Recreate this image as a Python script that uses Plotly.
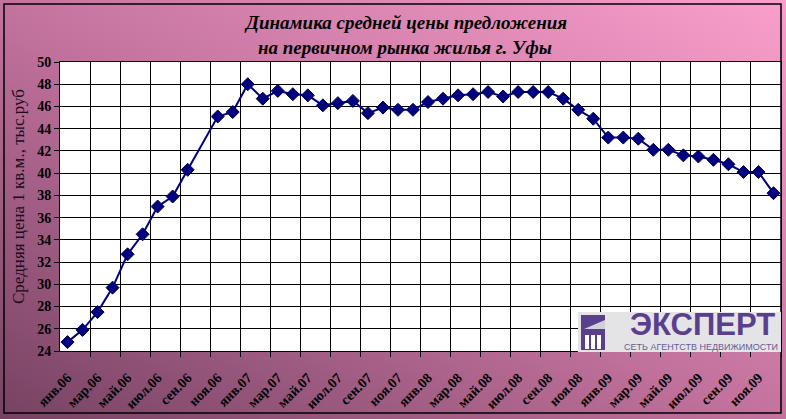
import base64
import plotly.graph_objects as go

# Помесячные данные, янв.06 - дек.09 (окт.06 нет на графике)
months = ["янв", "фев", "мар", "апр", "май", "июн", "июл", "авг", "сен", "окт", "ноя", "дек"]
years = ["06", "07", "08", "09"]
categories = [f"{m}.{y}" for y in years for m in months]

price = [24.8, 25.9, 27.5, 29.7, 32.7, 34.5, 37.0, 37.9, 40.3, None,
         45.1, 45.5, 48.0, 46.7, 47.4, 47.1, 47.0, 46.1, 46.3, 46.5,
         45.4, 45.9, 45.7, 45.7, 46.4, 46.7, 47.0, 47.1, 47.3, 46.9,
         47.3, 47.3, 47.3, 46.7, 45.7, 44.9, 43.2, 43.2, 43.1, 42.1,
         42.1, 41.6, 41.5, 41.2, 40.8, 40.1, 40.1, 38.2]

y_ticks = list(range(24, 51, 2))

title_lines = ["Динамика средней цены предложения", "на первичном рынка жилья г. Уфы"]

W, H = 786, 419
L, R, T, B = 60, 5, 62, 68
PW, PH = W - L - R, H - T - B


def px_x(p):
    return (p - L) / PW


def px_y(p):
    return 1 - (p - T) / PH


def label(text, x, y, font, **kw):
    # подпись в пикселях от левого верхнего угла
    fig.add_annotation(text=text, xref="paper", yref="paper", x=px_x(x), y=px_y(y),
                       xanchor="center", yanchor="middle", showarrow=False, font=font, **kw)


serif = "Liberation Serif"
navy = "#000080"
purple = "#5b3f8f"

# фон - диагональный градиент
svg = (
    '<svg xmlns="http://www.w3.org/2000/svg" width="786" height="419">'
    '<defs><linearGradient id="g" x1="0" y1="1" x2="1" y2="0">'
    '<stop offset="0" stop-color="#764262"/>'
    '<stop offset="0.5" stop-color="#c4739f"/>'
    '<stop offset="1" stop-color="#fa9fcc"/>'
    '</linearGradient></defs>'
    '<rect width="786" height="419" fill="url(#g)"/></svg>'
)
bg_src = "data:image/svg+xml;base64," + base64.b64encode(svg.encode()).decode()

x_idx = list(range(len(categories)))

fig = go.Figure()
fig.add_trace(go.Scatter(
    x=x_idx, y=price, mode="lines+markers", connectgaps=True,
    line=dict(color=navy, width=2),
    marker=dict(symbol="diamond", size=10, color=navy, line=dict(color="#00004a", width=1)),
    hoverinfo="x+y", showlegend=False,
))

fig.update_layout(
    width=W, height=H,
    margin=dict(l=L, r=R, t=T, b=B),
    paper_bgcolor="rgba(0,0,0,0)",
    plot_bgcolor="white",
    xaxis=dict(
        range=[-0.5, len(categories) - 0.5], automargin=False,
        tickvals=x_idx[::2], ticktext=categories[::2],
        tickangle=-45, ticks="", ticklabelstandoff=12,
        tickfont=dict(family=serif, size=14, color="black", weight="bold"),
        showgrid=False, zeroline=False,
        showline=True, linecolor="black", linewidth=1, mirror=True,
        minor=dict(
            tickvals=[i + 1.5 for i in x_idx[::2]],
            ticks="outside", ticklen=5, tickcolor="black",
            showgrid=True, gridcolor="black", gridwidth=1,
        ),
    ),
    yaxis=dict(
        range=[24, 50], tickvals=y_ticks, automargin=False,
        ticks="outside", ticklen=5, tickcolor="black",
        tickfont=dict(family=serif, size=14, color="black", weight="bold"),
        showgrid=True, gridcolor="black", gridwidth=1, zeroline=False,
        showline=True, linecolor="black", linewidth=1, mirror=True,
    ),
    images=[dict(
        source=bg_src, xref="paper", yref="paper",
        x=px_x(0), y=px_y(0), sizex=W / PW, sizey=H / PH,
        xanchor="left", yanchor="top", sizing="stretch", layer="below",
    )],
)

# белая область построения поверх градиента
fig.add_shape(type="rect", xref="paper", yref="paper", x0=0, x1=1, y0=0, y1=1,
              fillcolor="white", line_width=0, layer="below")
# рамка диаграммы
fig.add_shape(type="rect", xref="paper", yref="paper",
              x0=px_x(4), x1=px_x(781), y0=px_y(413), y1=px_y(4),
              line=dict(color="black", width=1.5), layer="above")

title_font = dict(family=serif, size=19, color="black", weight="bold", style="italic")
for line_text, cy in zip(title_lines, (22, 47)):
    label(line_text, 405, cy, title_font)

label("Средняя цена 1 кв.м., тыс.руб", 18, 197,
      dict(family=serif, size=17, color="#1e0a16"), textangle=-90)

# логотип "ЭКСПЕРТ"
fig.add_shape(type="rect", xref="paper", yref="paper",
              x0=px_x(578), x1=px_x(781), y0=px_y(352), y1=px_y(312),
              fillcolor="#e4e4e6", line_width=0, layer="above")
fig.add_shape(type="rect", xref="paper", yref="paper",
              x0=px_x(581), x1=px_x(605), y0=px_y(350), y1=px_y(315),
              fillcolor=purple, line_width=0, layer="above")
fig.add_shape(type="path", xref="paper", yref="paper",
              path=f"M {px_x(584)},{px_y(329)} L {px_x(605)},{px_y(320)} L {px_x(605)},{px_y(329)} Z",
              fillcolor="#d0d0d8", line_width=0, layer="above")
for cx in (587, 593, 599):
    fig.add_shape(type="rect", xref="paper", yref="paper",
                  x0=px_x(cx - 2), x1=px_x(cx + 2), y0=px_y(349), y1=px_y(335),
                  fillcolor="white", line_width=0, layer="above")
label("ЭКСПЕРТ", 702, 324, dict(family="Liberation Sans", size=31, color=purple, weight="bold"))
label("СЕТЬ АГЕНТСТВ НЕДВИЖИМОСТИ", 701, 347, dict(family="Liberation Sans", size=9, color="#6b5b95"))

fig.write_html("out.html", config={"displayModeBar": False},
               post_script="document.body.style.margin = '0';")
